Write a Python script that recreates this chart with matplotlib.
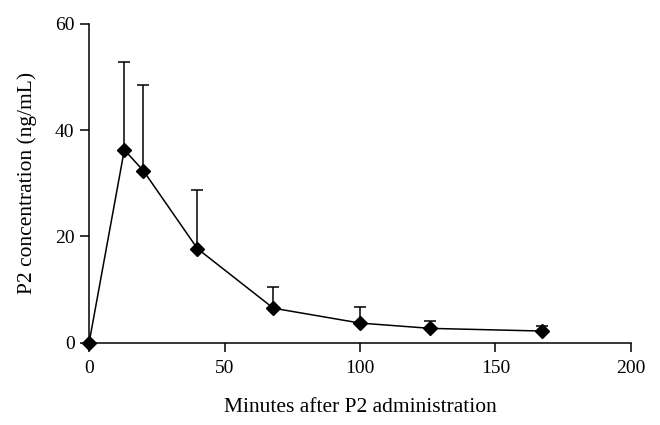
import matplotlib.pyplot as plt
import numpy as np

# data
minutes = [0, 13, 20, 40, 68, 100, 126, 167]
conc = [0.0, 36.3, 32.4, 17.7, 6.5, 3.7, 2.7, 2.2]
upper = [0.0, 52.9, 48.5, 28.7, 10.5, 6.8, 4.1, 3.1]

plt.rcParams['font.family'] = ['Liberation Serif', 'DejaVu Serif']

fig = plt.figure(figsize=(6.6, 4.25), dpi=100)
ax = fig.add_axes([0.135, 0.1936, 0.821, 0.75])

err = np.array(upper) - np.array(conc)
ax.errorbar(minutes, conc, yerr=[np.zeros_like(err), err], color='black',
            lw=1.1, elinewidth=1.1, capsize=4, capthick=1.1,
            marker='D', ms=7, mfc='black', mec='black', zorder=3, clip_on=False)

ax.set_xlim(0, 200)
ax.set_ylim(0, 60)
ax.set_xticks([0, 50, 100, 150, 200])
ax.set_yticks([0, 20, 40, 60])
for s in ['top', 'right']:
    ax.spines[s].set_visible(False)
for s in ['left', 'bottom']:
    ax.spines[s].set_linewidth(1.1)
ax.tick_params(direction='out', length=6.5, width=1.1, labelsize=14, pad=4)
ax.tick_params(axis='x', pad=6)
ax.set_xlabel('Minutes after P2 administration', fontsize=15.5, labelpad=15)
ax.set_ylabel('P2 concentration (ng/mL)', fontsize=15.5, labelpad=13)

fig.savefig('out.png', dpi=100)
